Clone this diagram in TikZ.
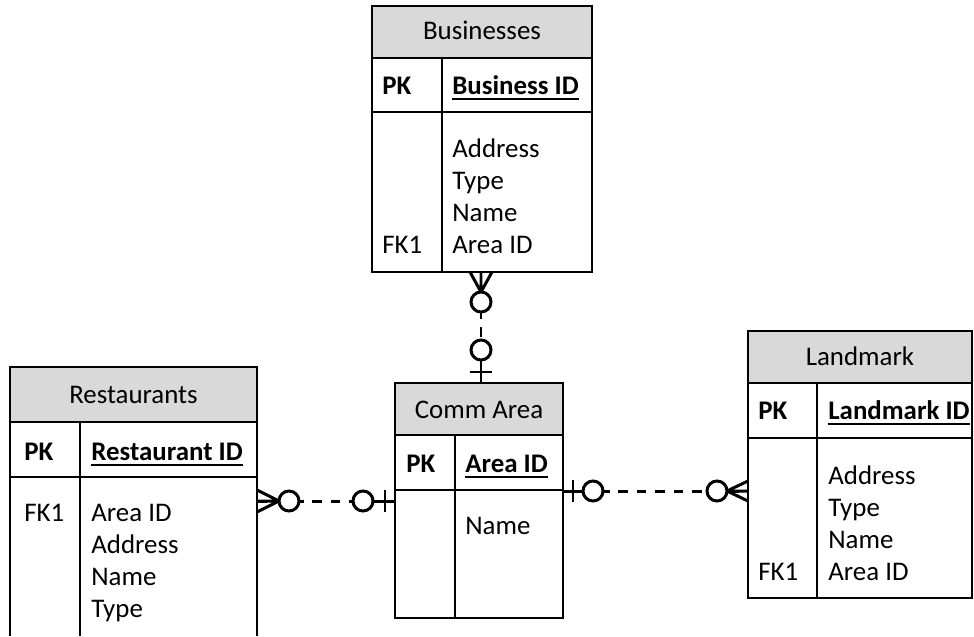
\documentclass[tikz,border=0pt]{standalone}
\usepackage{fontspec}
\setmainfont{Carlito}
\definecolor{hdrgray}{RGB}{217,217,217}
\def\keyul#1{\setbox0\hbox{#1}\rlap{\rule[-3.4pt]{\wd0}{1pt}}\box0}
\tikzset{
  tbl/.style={line width=1.1pt},
  hdr/.style={fill=hdrgray,line width=1.1pt},
  txt/.style={inner sep=0pt,anchor=base west,font=\fontsize{15.3}{18}\selectfont},
  ttl/.style={inner sep=0pt,anchor=base,font=\fontsize{15.3}{18}\selectfont},
  rel/.style={line width=1.7pt},
  reldash/.style={line width=1.7pt,dash pattern=on 5.5pt off 5pt},
  opt/.style={line width=1.7pt,fill=white}
}
\begin{document}
\begin{tikzpicture}[x=0.02cm,y=-0.02cm]
  \useasboundingbox (0,0) rectangle (974,636);
  % Businesses
  \draw[hdr] (372,6) rectangle (592,58);
  \draw[tbl] (372,58) rectangle (592,272);
  \draw[tbl] (372,112) -- (592,112) (442,58) -- (442,272);
  \node[ttl] (bizttl) at (482,39) {Businesses};
  \node[txt] (bizpk) at (382,94) {\bfseries PK};
  \node[txt] (bizid) at (452,94) {\bfseries\keyul{Business ID}};
  \node[txt] (bizfk) at (382,253) {FK1};
  \foreach \f/\y [count=\i] in {Address/157,Type/189,Name/221,Area ID/253}
    \node[txt] (bizf\i) at (452,\y) {\f};
  % Restaurants
  \draw[hdr] (10,367) rectangle (257,422);
  \draw[tbl] (10,636) -- (10,422) -- (257,422) -- (257,636);
  \draw[tbl] (10,477) -- (257,477) (80,422) -- (80,636);
  \node[ttl] (restttl) at (133.5,403) {Restaurants};
  \node[txt] (restpk) at (24,460) {\bfseries PK};
  \node[txt] (restid) at (91,460) {\bfseries\keyul{Restaurant ID}};
  \node[txt] (restfk) at (24,521) {FK1};
  \foreach \f/\y [count=\i] in {Area ID/521,Address/553,Name/585,Type/617}
    \node[txt] (restf\i) at (91,\y) {\f};
  % Comm Area
  \draw[hdr] (395,383) rectangle (563,435);
  \draw[tbl] (395,435) rectangle (563,618);
  \draw[tbl] (395,490) -- (563,490) (455,435) -- (455,618);
  \node[ttl] (commttl) at (479,418) {Comm Area};
  \node[txt] (commpk) at (406,472) {\bfseries PK};
  \node[txt] (commid) at (465,472) {\bfseries\keyul{Area ID}};
  \node[txt] (commf1) at (465,534) {Name};
  % Landmark
  \draw[hdr] (748,331) rectangle (972,383);
  \draw[tbl] (748,383) rectangle (972,598);
  \draw[tbl] (748,438) -- (972,438) (817,383) -- (817,598);
  \node[ttl] (landttl) at (860,365) {Landmark};
  \node[txt] (landpk) at (758,419) {\bfseries PK};
  \node[txt] (landid) at (828,419) {\bfseries\keyul{Landmark ID}};
  \node[txt] (landfk) at (758,580) {FK1};
  \foreach \f/\y [count=\i] in {Address/484,Type/516,Name/548,Area ID/580}
    \node[txt] (landf\i) at (828,\y) {\f};
  % relationship ends
  \coordinate (bizend) at (481,272);
  \coordinate (commtop) at (481,383);
  \coordinate (restend) at (257,501);
  \coordinate (commleft) at (395,501);
  \coordinate (commright) at (563,491);
  \coordinate (landend) at (748,491);
  \draw[reldash] (bizend) -- (commtop);
  \draw[reldash] (restend) -- (commleft);
  \draw[reldash] (commright) -- (landend);
  % Businesses >o----o| Comm Area
  \draw[rel] (bizend) -- ++(0,20) (bizend) ++(-11,0) -- ++(11,20) -- ++(11,-20);
  \draw[opt] (bizend) ++(0,30) circle[radius=0.2cm];
  \draw[rel] (commtop) -- ++(0,-23) (commtop) ++(-11,-11) -- ++(22,0);
  \draw[opt] (commtop) ++(0,-33) circle[radius=0.2cm];
  % Restaurants >o----o| Comm Area
  \draw[rel] (restend) -- ++(22,0) (restend) ++(0,-11) -- ++(22,11) -- ++(-22,11);
  \draw[opt] (restend) ++(32,0) circle[radius=0.2cm];
  \draw[rel] (commleft) -- ++(-22,0) (commleft) ++(-10,-11) -- ++(0,22);
  \draw[opt] (commleft) ++(-32,0) circle[radius=0.2cm];
  % Comm Area |o----o< Landmark
  \draw[rel] (commright) -- ++(20,0) (commright) ++(10,-11) -- ++(0,22);
  \draw[opt] (commright) ++(30,0) circle[radius=0.2cm];
  \draw[rel] (landend) -- ++(-21,0) (landend) ++(0,-10) -- ++(-21,10) -- ++(21,10);
  \draw[opt] (landend) ++(-31,0) circle[radius=0.2cm];
\end{tikzpicture}
\end{document}
